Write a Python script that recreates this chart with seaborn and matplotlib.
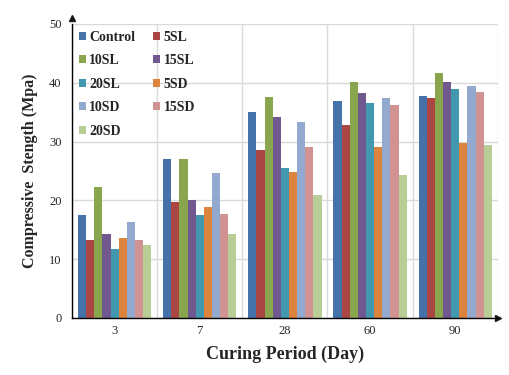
import pandas as pd
import matplotlib
matplotlib.use('Agg')
import matplotlib.pyplot as plt
import seaborn as sns

# Data
days = ["3", "7", "28", "60", "90"]
mixes = ["Control", "5SL", "10SL", "15SL", "20SL", "5SD", "10SD", "15SD", "20SD"]
control = [17.5, 27.1, 35.0, 36.9, 37.8]
sl5 = [13.3, 19.7, 28.6, 32.8, 37.4]
sl10 = [22.2, 27.1, 37.6, 40.1, 41.6]
sl15 = [14.3, 20.0, 34.2, 38.3, 40.2]
sl20 = [11.8, 17.5, 25.5, 36.6, 38.9]
sd5 = [13.6, 18.8, 24.9, 29.0, 29.8]
sd10 = [16.3, 24.6, 33.4, 37.4, 39.5]
sd15 = [13.2, 17.7, 29.1, 36.2, 38.5]
sd20 = [12.5, 14.3, 20.9, 24.4, 29.4]
colors = ["#4672AA", "#AA4644", "#89A54E", "#71588F", "#4198AF",
          "#DB843D", "#93A9CF", "#D19392", "#B9CD96"]

series = [control, sl5, sl10, sl15, sl20, sd5, sd10, sd15, sd20]
df = pd.DataFrame([(d, m, v) for m, vals in zip(mixes, series) for d, v in zip(days, vals)],
                  columns=["day", "mix", "strength"])

sns.set_theme(style="white")
plt.rcParams['font.family'] = ['Liberation Serif', 'DejaVu Serif']

fig = plt.figure(figsize=(5.09, 3.75), dpi=100)
ax = fig.add_axes([0.1415, 0.152, 0.8365, 0.784])

sns.barplot(data=df, x="day", y="strength", hue="mix", order=days, hue_order=mixes,
            palette=colors, width=0.86, gap=0, saturation=1, linewidth=0, ax=ax)

ax.set_ylim(0, 50)
ax.set_xlim(-0.5, 4.5)
ax.set_yticks(range(0, 51, 10))
ax.set_xticks([i + 0.5 for i in range(-1, 5)], minor=True)
ax.grid(axis="y", color="#d9d9d9", lw=1)
ax.grid(axis="x", which="minor", color="#d9d9d9", lw=1)
ax.set_axisbelow(True)
ax.tick_params(axis="x", which="major", length=0, labelsize=9, pad=5)
ax.tick_params(axis="x", which="minor", length=4, width=1, color="black", direction="out")
ax.tick_params(axis="y", length=4, width=1, color="black", labelsize=9, direction="out")

for s in ["top", "right"]:
    ax.spines[s].set_visible(False)
for s in ["left", "bottom"]:
    ax.spines[s].set_color("black")
    ax.spines[s].set_linewidth(1)
ax.plot(0, 1.02, "^k", ms=4, transform=ax.transAxes, clip_on=False)
ax.plot(1.0, 0, ">k", ms=4, transform=ax.transAxes, clip_on=False)

ax.set_xlabel("Curing Period (Day)", fontsize=13, fontweight="bold", labelpad=6)
ax.set_ylabel("Compressive  Stength (Mpa)", fontsize=11.5, fontweight="bold", labelpad=8)

# legend filled row by row, as in the reference
handles, labels = ax.get_legend_handles_labels()
order = [0, 2, 4, 6, 8, 1, 3, 5, 7]
ax.legend([handles[i] for i in order], [labels[i] for i in order],
          loc="upper left", ncol=2, frameon=False,
          prop={"weight": "bold", "size": 10}, handlelength=0.5, handleheight=0.5,
          handletextpad=0.25, columnspacing=1.3, labelspacing=0.75,
          borderaxespad=0.1, bbox_to_anchor=(0.0, 1.0))

fig.savefig("out.png", dpi=100)
